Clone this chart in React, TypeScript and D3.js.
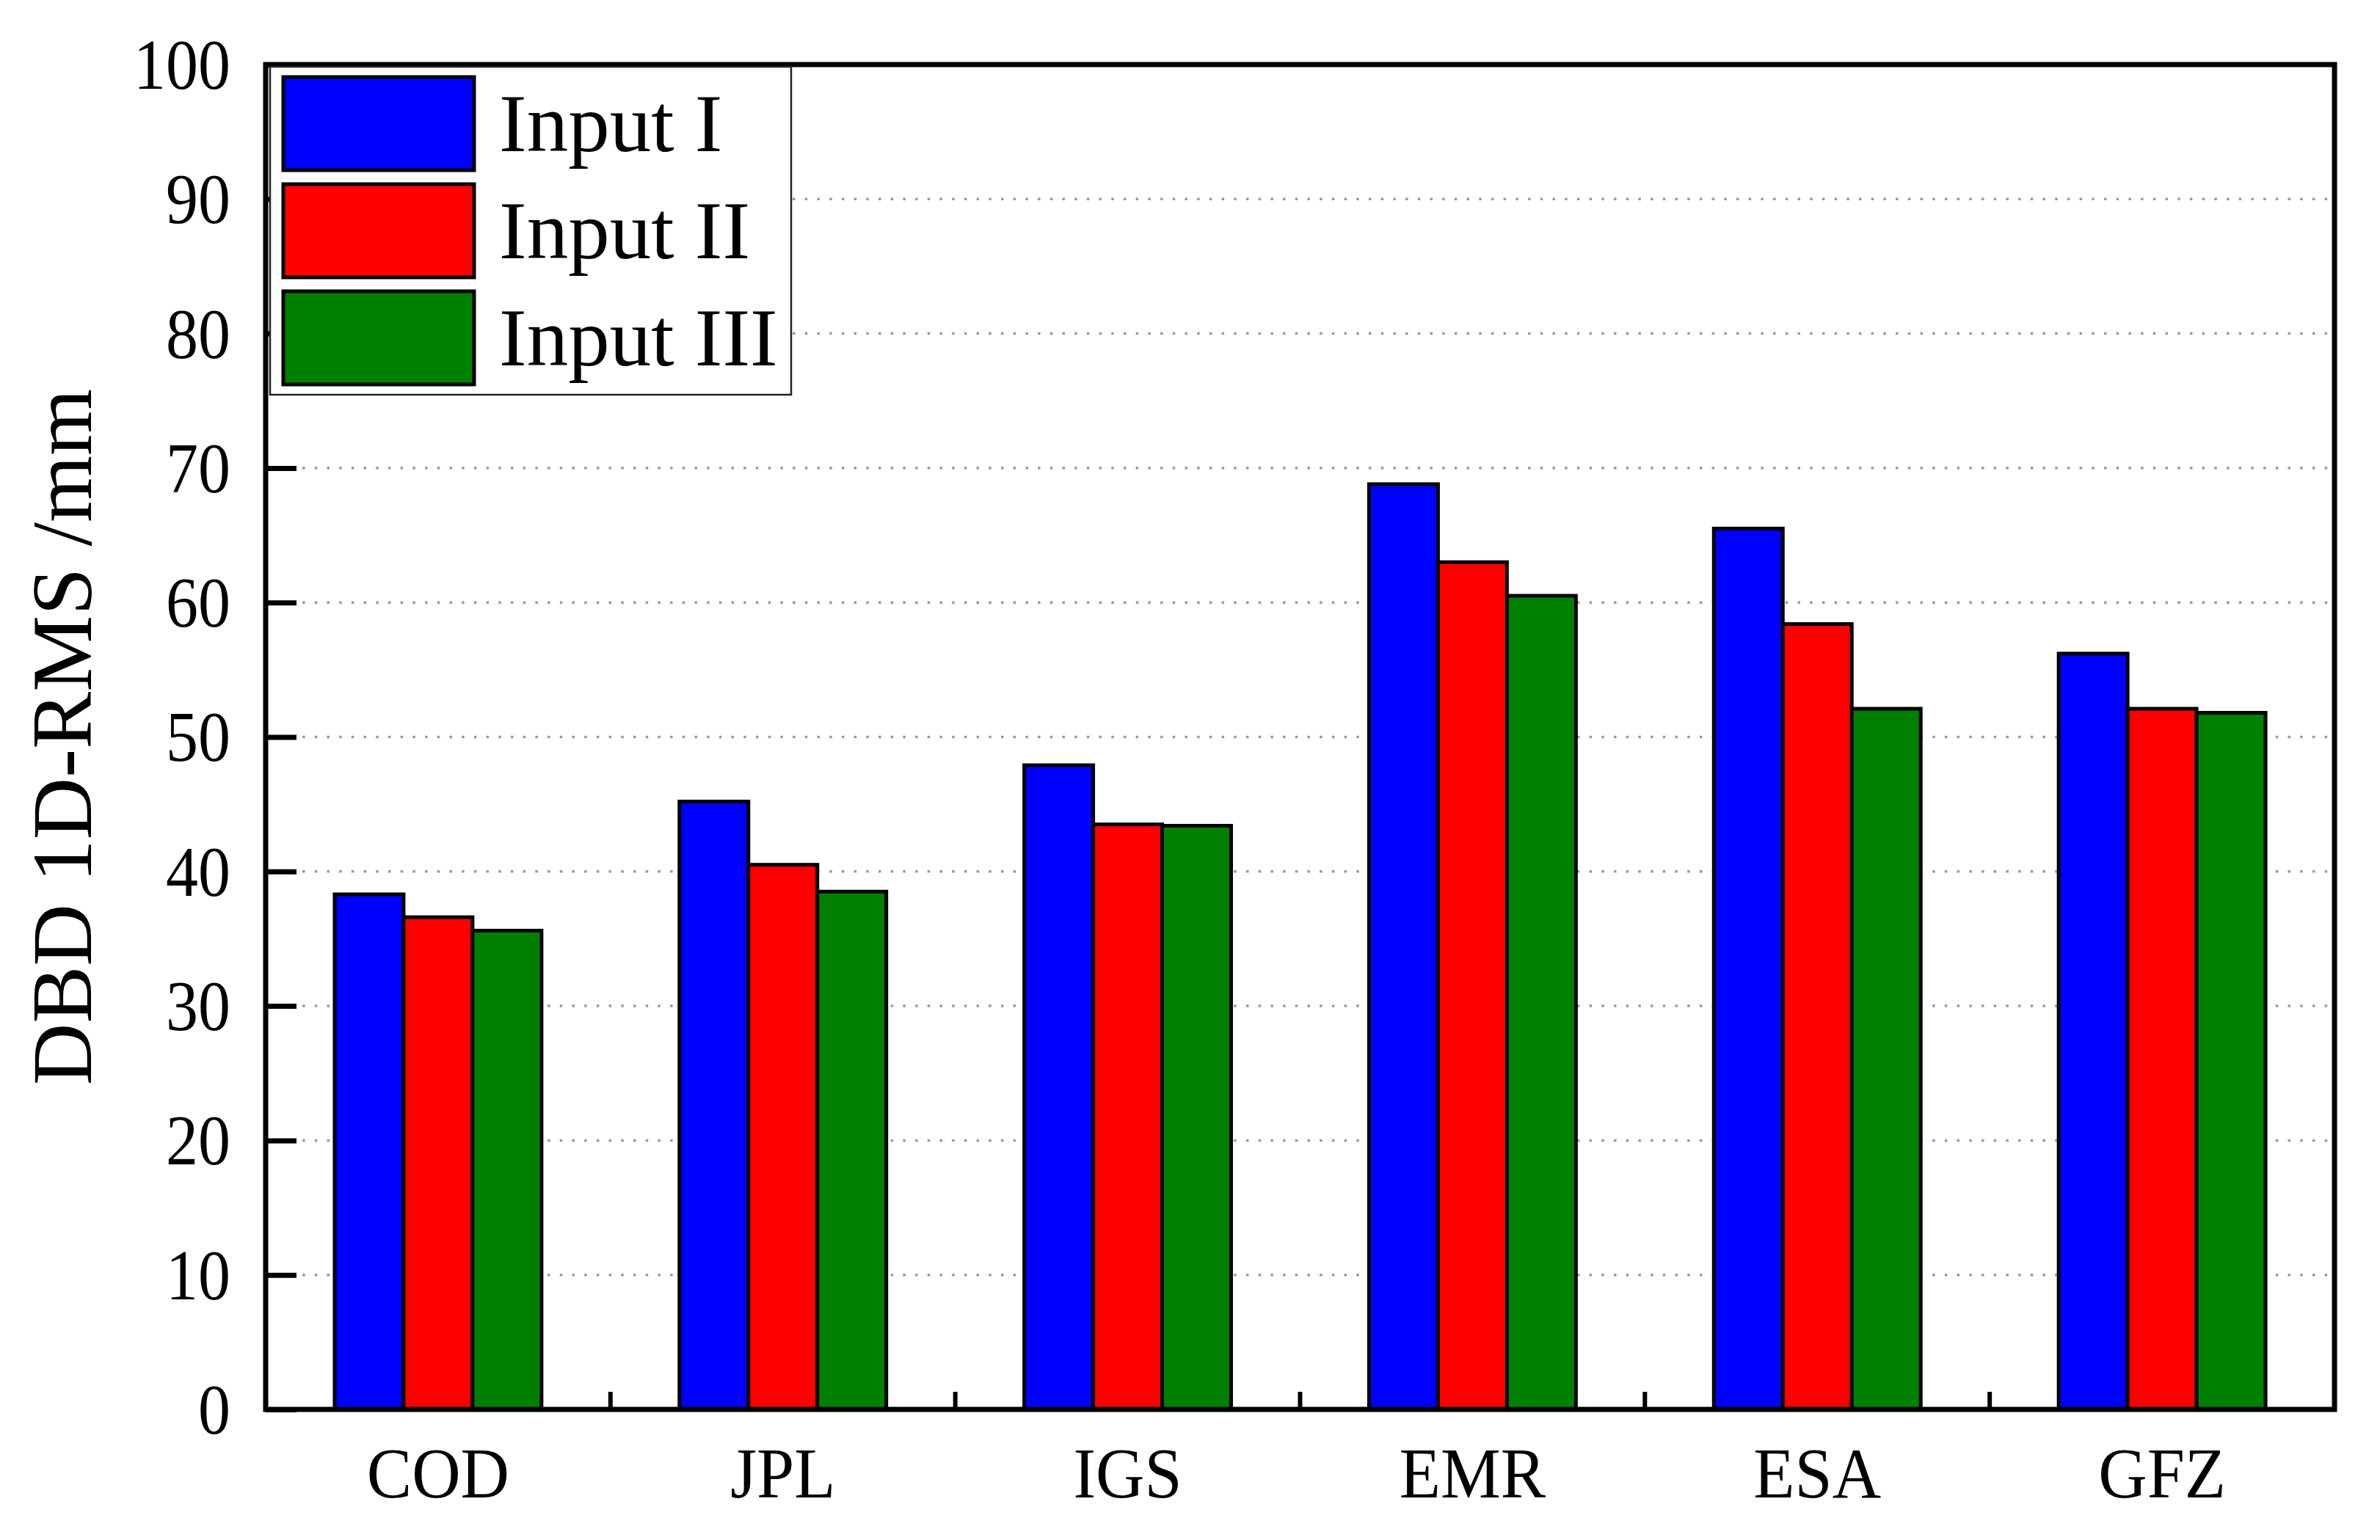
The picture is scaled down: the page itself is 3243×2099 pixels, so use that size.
import React, { useEffect, useRef } from 'react';
import * as d3 from 'd3';

const centers = ['COD', 'JPL', 'IGS', 'EMR', 'ESA', 'GFZ'];
const seriesNames = ['Input I', 'Input II', 'Input III'];
const seriesColors = ['#0000FF', '#FF0000', '#008000'];
const inputI = [38.3, 45.2, 47.9, 68.8, 65.5, 56.2];
const inputII = [36.6, 40.5, 43.5, 63.0, 58.4, 52.1];
const inputIII = [35.6, 38.5, 43.4, 60.5, 52.1, 51.8];
const yTicks = [0, 10, 20, 30, 40, 50, 60, 70, 80, 90, 100];

const WIDTH = 3243;
const HEIGHT = 2099;
const FONT = '"Liberation Serif", "Times New Roman", serif';

export default function App() {
  const svgRef = useRef<SVGSVGElement>(null);

  useEffect(() => {
    if (!svgRef.current) return;
    document.body.style.margin = '0';

    const margin = { top: 88, right: WIDTH - 3181, bottom: HEIGHT - 1921, left: 362 };
    const chartWidth = WIDTH - margin.left - margin.right;
    const chartHeight = HEIGHT - margin.top - margin.bottom;

    const svg = d3.select(svgRef.current);
    svg.selectAll('*').remove();

    const series = [inputI, inputII, inputIII];

    // Scales
    const x = d3.scaleBand().domain(centers).range([0, chartWidth]).padding(0);
    const step = x.bandwidth();
    const xInner = d3.scaleBand()
      .domain(seriesNames)
      .range([step * 0.2, step * 0.8])
      .padding(0);
    const y = d3.scaleLinear().domain([0, 100]).range([chartHeight, 0]);

    const g = svg.append('g').attr('transform', `translate(${margin.left},${margin.top})`);

    // Dotted grid
    g.append('g')
      .selectAll('line')
      .data(yTicks.filter(t => t > 0 && t < 100))
      .enter()
      .append('line')
      .attr('x1', 0)
      .attr('x2', chartWidth)
      .attr('y1', d => y(d))
      .attr('y2', d => y(d))
      .attr('stroke', '#9a9a9a')
      .attr('stroke-width', 3.5)
      .attr('stroke-dasharray', '3.5 13.2');

    // Bars
    const groups = g.selectAll('.grp')
      .data(centers)
      .enter()
      .append('g')
      .attr('transform', d => `translate(${x(d)},0)`);

    groups.selectAll('rect')
      .data((_, i) => seriesNames.map((name, s) => ({ name, s, value: series[s][i] })))
      .enter()
      .append('rect')
      .attr('x', d => xInner(d.name) || 0)
      .attr('y', d => y(d.value))
      .attr('width', xInner.bandwidth())
      .attr('height', d => chartHeight - y(d.value))
      .attr('fill', d => seriesColors[d.s])
      .attr('stroke', '#000')
      .attr('stroke-width', 5);

    // Y axis ticks (inward)
    const yAxis = g.append('g')
      .call(d3.axisRight(y).tickValues(yTicks).tickSize(42).tickFormat(() => ''));
    yAxis.select('.domain').remove();
    yAxis.selectAll('.tick line').attr('stroke', '#000').attr('stroke-width', 7);

    // tick labels look a little taller than wide in the original
    g.append('g')
      .selectAll('text')
      .data(yTicks)
      .enter()
      .append('text')
      .attr('transform', d => `translate(-48,${y(d)}) scale(1,1.1)`)
      .attr('dy', '0.34em')
      .attr('text-anchor', 'end')
      .style('font-family', FONT)
      .style('font-size', '88px')
      .attr('fill', '#000')
      .text(d => d);

    // X axis: ticks between groups, labels centred
    const boundaries = centers.slice(1).map(c => x(c) || 0);
    g.append('g')
      .selectAll('line')
      .data(boundaries)
      .enter()
      .append('line')
      .attr('x1', d => d)
      .attr('x2', d => d)
      .attr('y1', chartHeight)
      .attr('y2', chartHeight - 24)
      .attr('stroke', '#000')
      .attr('stroke-width', 6);

    g.append('g')
      .selectAll('text')
      .data(centers)
      .enter()
      .append('text')
      .attr('transform', d => `translate(${(x(d) || 0) + step / 2},${chartHeight + 120}) scale(1,1.05)`)
      .attr('text-anchor', 'middle')
      .style('font-family', FONT)
      .style('font-size', '92px')
      .attr('fill', '#000')
      .text(d => d);

    // Frame
    g.append('rect')
      .attr('x', 0)
      .attr('y', 0)
      .attr('width', chartWidth)
      .attr('height', chartHeight)
      .attr('fill', 'none')
      .attr('stroke', '#000')
      .attr('stroke-width', 7);

    // Y title
    svg.append('text')
      .attr('transform', `translate(124,${margin.top + chartHeight / 2}) rotate(-90)`)
      .attr('text-anchor', 'middle')
      .style('font-family', FONT)
      .style('font-size', '117px')
      .attr('fill', '#000')
      .text('DBD 1D-RMS /mm');

    // Legend
    const legend = svg.append('g').attr('transform', 'translate(368,91)');
    legend.append('rect')
      .attr('width', 710)
      .attr('height', 447)
      .attr('fill', '#fff')
      .attr('stroke', '#222')
      .attr('stroke-width', 2.5);

    const rows = legend.selectAll('.row')
      .data(seriesNames)
      .enter()
      .append('g')
      .attr('transform', (_, i) => `translate(0,${i * 146})`);

    rows.append('rect')
      .attr('x', 18)
      .attr('y', 14)
      .attr('width', 260)
      .attr('height', 127)
      .attr('fill', (_, i) => seriesColors[i])
      .attr('stroke', '#000')
      .attr('stroke-width', 5);

    rows.append('text')
      .attr('x', 312)
      .attr('y', 115)
      .style('font-family', FONT)
      .style('font-size', '113px')
      .attr('fill', '#000')
      .text(d => d);
  }, []);

  return (
    <svg
      ref={svgRef}
      width={WIDTH}
      height={HEIGHT}
      style={{ position: 'absolute', left: 0, top: 0, display: 'block', background: '#fff' }}
    />
  );
}
